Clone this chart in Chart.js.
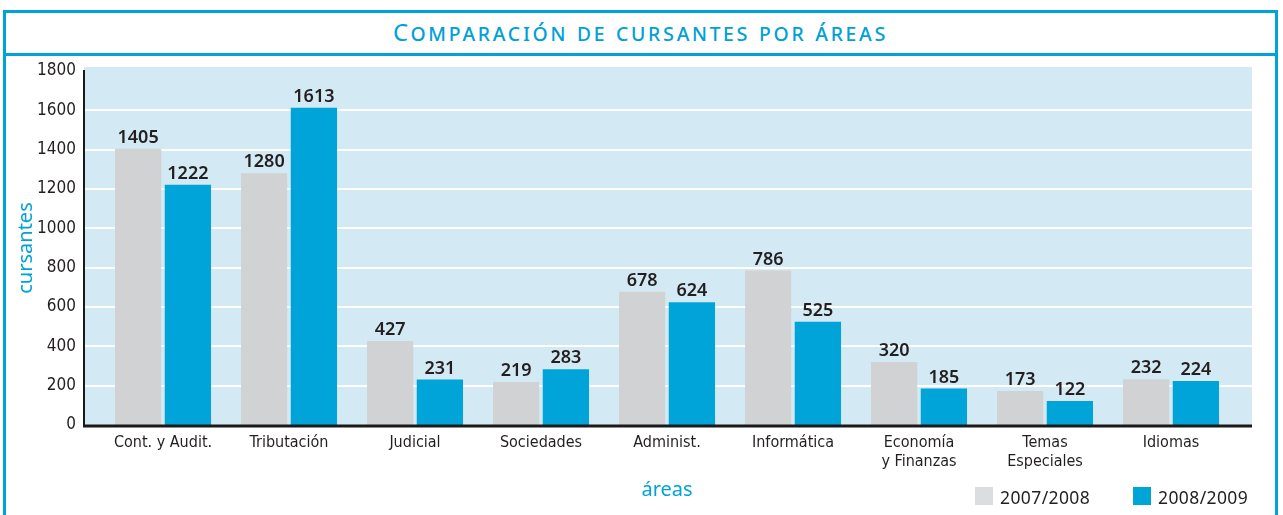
<!DOCTYPE html>
<html>
<head>
<meta charset="utf-8">
<script src="https://cdn.jsdelivr.net/npm/chart.js@4/dist/chart.umd.min.js"></script>
<style>
  html, body { margin: 0; padding: 0; background: #fff; width: 1283px; height: 515px; overflow: hidden; }
  #frame { position: absolute; left: 3px; top: 10px; width: 1275px; height: 560px; border: 3px solid #00a3d9; box-sizing: border-box; }
  #title { position: absolute; left: 0; top: 0; width: 100%; height: 43px; border-bottom: 3px solid #00a3d9; box-sizing: border-box;
           text-align: center; font-family: 'Noto Sans', sans-serif; font-variant: small-caps; font-size: 24px; letter-spacing: 2.7px;
           color: #00a0d8; line-height: 37px; }
  #chart { position: absolute; left: 0; top: 0; }
  .legend { position: absolute; top: 487px; font-family: 'Noto Sans', sans-serif; font-size: 17.5px; color: #231f20; line-height: 18px; }
  .legend span.box { position: absolute; left: 0; top: 0; width: 18px; height: 18px; }
  .legend span.txt { position: absolute; left: 25px; top: 1px; white-space: nowrap; letter-spacing: 0.4px; }
</style>
</head>
<body>
<div id="frame"><div id="title">Comparación de cursantes por áreas</div></div>
<canvas id="chart" width="1283" height="515"></canvas>
<div id="legend"></div>
<script>
// Cursantes por áreas, dos períodos
const areas = ['Cont. y Audit.', 'Tributación', 'Judicial', 'Sociedades', 'Administ.', 'Informática',
  ['Economía', 'y Finanzas'], ['Temas', 'Especiales'], 'Idiomas'];
const periodos = ['2007/2008', '2008/2009'];
const cursantes0708 = [1405, 1280, 427, 219, 678, 786, 320, 173, 232];
const cursantes0809 = [1222, 1613, 231, 283, 624, 525, 185, 122, 224];
const yTicks = [0, 200, 400, 600, 800, 1000, 1200, 1400, 1600, 1800];

const colGray = '#d1d2d4';
const colBlue = '#00a4d8';
const ink = '#231f20';

// legend as plain html, bottom right
const legendPos = [975, 1133];
document.getElementById('legend').innerHTML = periodos.map((p, i) =>
  '<div class="legend" style="left:' + legendPos[i] + 'px"><span class="box" style="background:' +
  (i === 0 ? '#dcdddf' : colBlue) + '"></span><span class="txt">' + p + '</span></div>').join('');

// light blue plot panel, white grid lines, black axes and the value labels
const panel = {
  id: 'panel',
  beforeDraw(chart) {
    const { ctx, chartArea: a, scales: { y } } = chart;
    const left = a.left - 16, right = a.right + 18;
    ctx.save();
    ctx.fillStyle = '#d3eaf4';
    ctx.fillRect(left, a.top - 4, right - left, a.bottom - a.top + 4);
    ctx.strokeStyle = '#ffffff';
    ctx.lineWidth = 2;
    yTicks.forEach(v => {
      if (v <= 0 || v >= 1800) return;
      const py = Math.round(y.getPixelForValue(v));
      ctx.beginPath(); ctx.moveTo(left, py); ctx.lineTo(right, py); ctx.stroke();
    });
    ctx.restore();
  },
  afterDatasetsDraw(chart) {
    const { ctx, chartArea: a } = chart;
    const left = a.left - 16, right = a.right + 18;
    ctx.save();
    ctx.strokeStyle = '#1a1a1a';
    ctx.lineWidth = 2;
    ctx.beginPath(); ctx.moveTo(left, a.top - 1); ctx.lineTo(left, a.bottom + 2); ctx.stroke();
    ctx.lineWidth = 3;
    ctx.beginPath(); ctx.moveTo(left - 1, a.bottom + 1); ctx.lineTo(right, a.bottom + 1); ctx.stroke();

    ctx.fillStyle = ink;
    ctx.font = '600 18px "Noto Sans", sans-serif';
    ctx.textAlign = 'center';
    ctx.textBaseline = 'bottom';
    chart.data.datasets.forEach((ds, i) => {
      chart.getDatasetMeta(i).data.forEach((bar, j) => {
        ctx.fillText(String(ds.data[j]), bar.x, bar.y - 2);
      });
    });
    ctx.restore();
  }
};

Chart.defaults.font.family = "'Liberation Sans Narrow', 'DejaVu Sans Condensed', 'Noto Sans', sans-serif";
Chart.defaults.color = ink;

new Chart(document.getElementById('chart').getContext('2d'), {
  type: 'bar',
  data: {
    labels: areas,
    datasets: [
      { label: periodos[0], data: cursantes0708, backgroundColor: colGray },
      { label: periodos[1], data: cursantes0809, backgroundColor: colBlue }
    ]
  },
  options: {
    responsive: false,
    animation: false,
    events: [],
    layout: { padding: { left: 12, top: 71, right: 49, bottom: 0 } },
    datasets: { bar: { categoryPercentage: 0.79, barPercentage: 0.93 } },
    plugins: { legend: { display: false }, tooltip: { enabled: false } },
    scales: {
      x: {
        grid: { display: false, drawTicks: false },
        border: { display: false },
        ticks: { font: { size: 16 }, padding: 8, maxRotation: 0, autoSkip: false },
        title: { display: true, text: 'áreas', color: '#00a3d9', font: { family: "'Noto Sans', sans-serif", size: 20 },
                 padding: { top: 0, bottom: 13 } },
        afterFit: s => { s.height = 90; }
      },
      y: {
        min: 0, max: 1800,
        grid: { display: false, drawTicks: false },
        border: { display: false },
        ticks: { font: { size: 17 }, padding: 24, callback: v => String(v) },
        afterBuildTicks: s => { s.ticks = yTicks.map(v => ({ value: v })); },
        title: { display: true, text: 'cursantes', color: '#00a3d9', font: { family: "'Noto Sans', sans-serif", size: 20 },
                 padding: { top: 2, bottom: 0 } },
        afterFit: s => { s.width = 88; }
      }
    }
  },
  plugins: [panel]
});
</script>
</body>
</html>
